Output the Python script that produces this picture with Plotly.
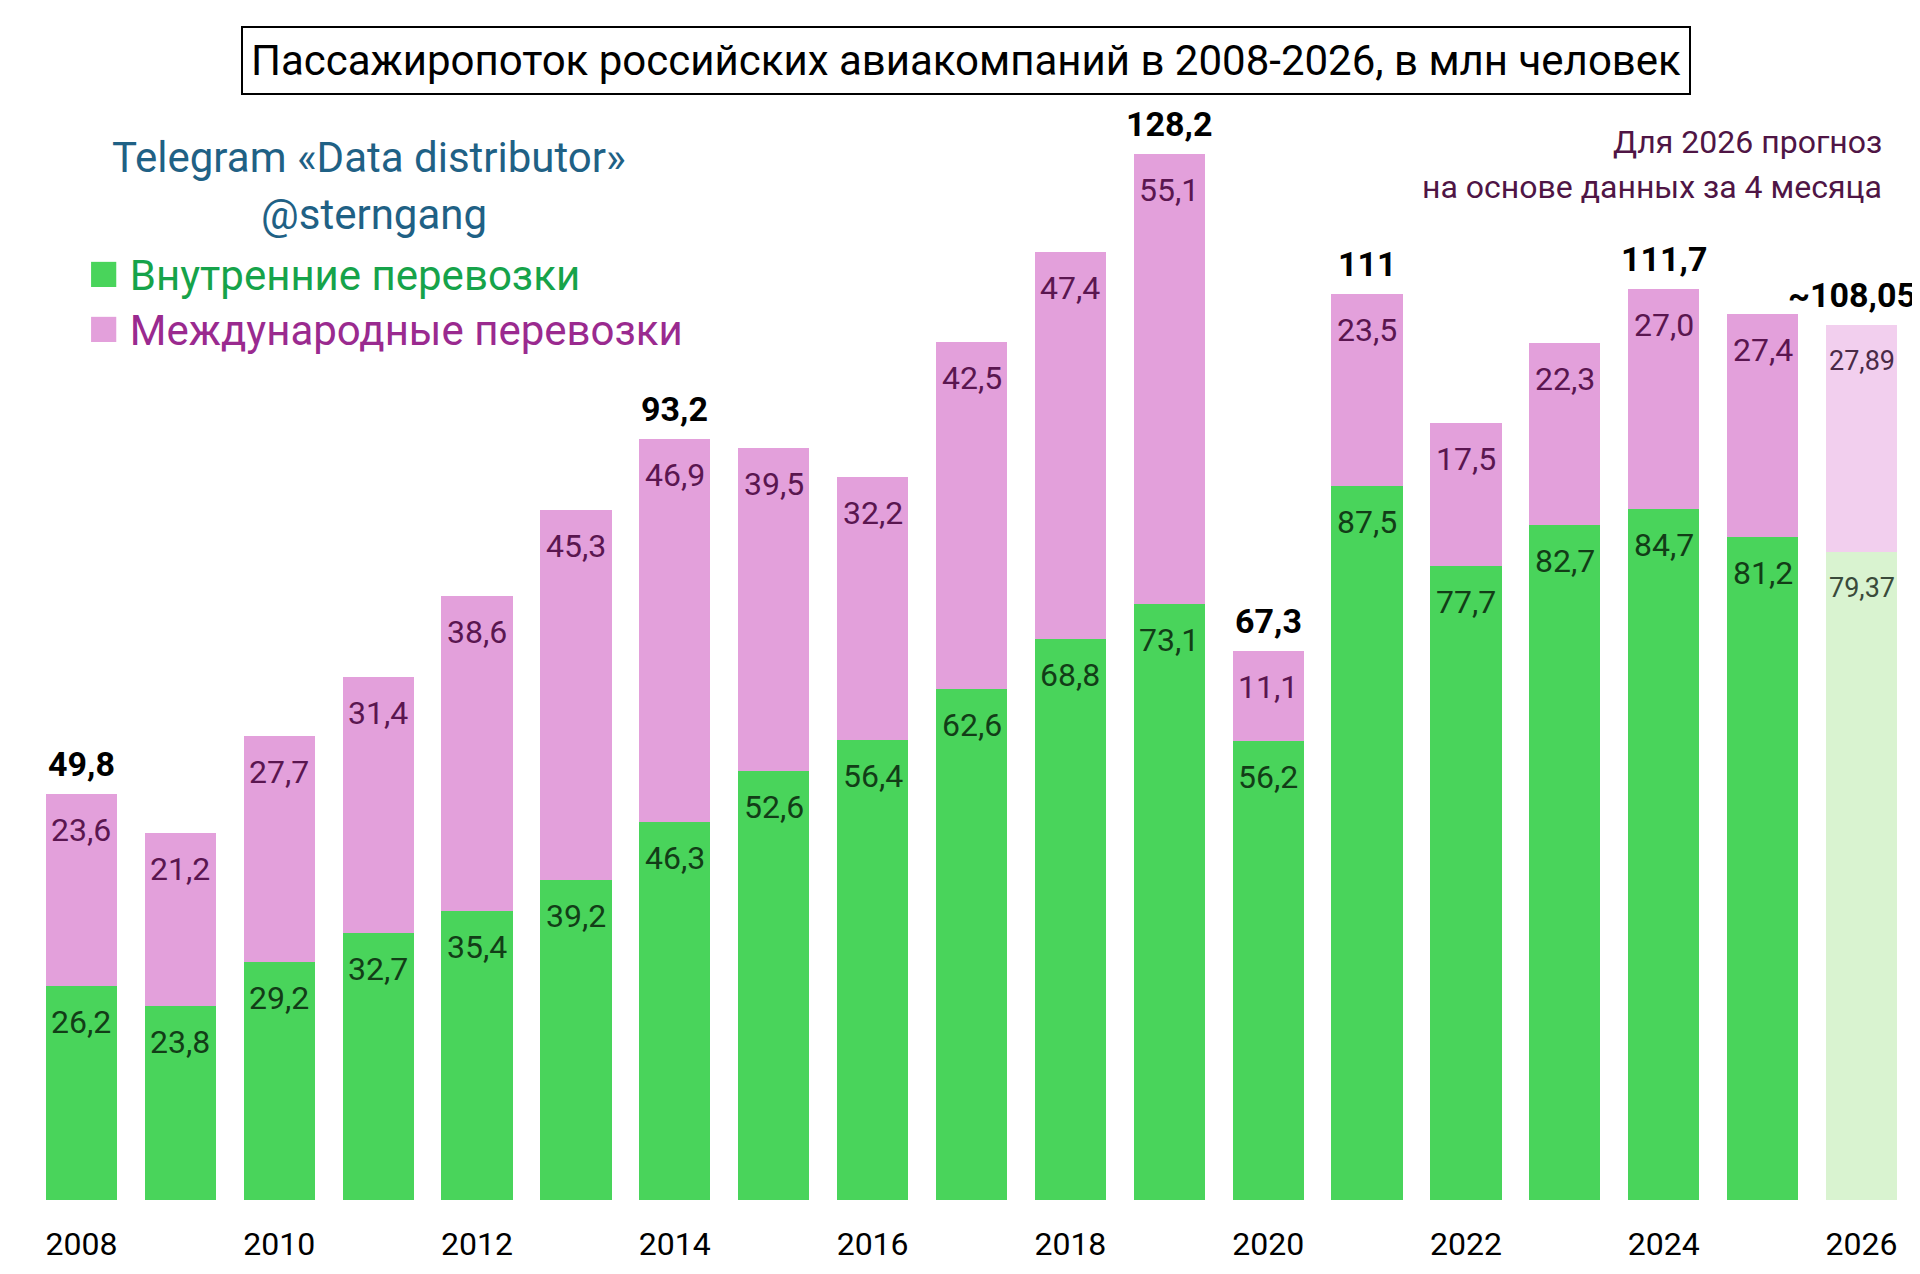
import plotly.graph_objects as go

# years and values (mln passengers)
years = list(range(2008, 2027))
domestic = [26.2, 23.8, 29.2, 32.7, 35.4, 39.2, 46.3, 52.6, 56.4, 62.6, 68.8, 73.1, 56.2, 87.5, 77.7, 82.7, 84.7, 81.2, 79.37]
international = [23.6, 21.2, 27.7, 31.4, 38.6, 45.3, 46.9, 39.5, 32.2, 42.5, 47.4, 55.1, 11.1, 23.5, 17.5, 22.3, 27.0, 27.4, 27.89]
dom_labels = ['26,2', '23,8', '29,2', '32,7', '35,4', '39,2', '46,3', '52,6', '56,4', '62,6', '68,8', '73,1', '56,2', '87,5', '77,7', '82,7', '84,7', '81,2', '79,37']
intl_labels = ['23,6', '21,2', '27,7', '31,4', '38,6', '45,3', '46,9', '39,5', '32,2', '42,5', '47,4', '55,1', '11,1', '23,5', '17,5', '22,3', '27,0', '27,4', '27,89']
total_labels = ['49,8', '', '', '', '', '', '93,2', '', '', '', '', '128,2', '67,3', '111', '', '', '111,7', '', '~108,05']
forecast_year = 2026

FONT = 'Roboto, Liberation Sans, sans-serif'
GREEN = '#49D45B'
PINK = '#E3A0DB'
GREEN_F = '#D9F3D0'
PINK_F = '#F2CFEE'

W, H = 1920, 1274
OFF = 8  # page body margin


def px(x, y):
    # screen pixels -> paper coords
    return (x - OFF) / W, 1 - (y - OFF) / H


is_fc = [y == forecast_year for y in years]

fig = go.Figure()
fig.add_trace(go.Bar(x=years, y=domestic, name='Внутренние перевозки',
                     marker=dict(color=[GREEN_F if f else GREEN for f in is_fc], line=dict(width=0))))
fig.add_trace(go.Bar(x=years, y=international, name='Международные перевозки',
                     marker=dict(color=[PINK_F if f else PINK for f in is_fc], line=dict(width=0))))

anns = []
for i, y in enumerate(years):
    top_d = domestic[i]
    top_t = domestic[i] + international[i]
    size = 27 if is_fc[i] else 32
    anns.append(dict(x=y, y=top_d, text=dom_labels[i], showarrow=False, yshift=-36,
                     xanchor='center', yanchor='middle',
                     font=dict(size=size, color='#3a4a3a' if is_fc[i] else '#123d17', family=FONT)))
    anns.append(dict(x=y, y=top_t, text=intl_labels[i], showarrow=False, yshift=-36,
                     xanchor='center', yanchor='middle',
                     font=dict(size=size, color='#4a2a47' if is_fc[i] else '#5a1650', family=FONT)))
    if total_labels[i]:
        anns.append(dict(x=y, y=top_t, text='<b>' + total_labels[i] + '</b>', showarrow=False,
                         yshift=30, xanchor='center', yanchor='middle', xshift=-10 if is_fc[i] else 0,
                         font=dict(size=34, color='black', family=FONT)))


def note(x, y, text, size, color, xanchor='center', **kw):
    px_x, px_y = px(x, y)
    return dict(xref='paper', yref='paper', x=px_x, y=px_y, showarrow=False, text=text,
                xanchor=xanchor, yanchor='middle', font=dict(size=size, color=color, family=FONT), **kw)


# title box
anns.append(note(966, 61, 'Пассажиропоток российских авиакомпаний в 2008-2026, в млн человек', 42, 'black',
                 bgcolor='white', bordercolor='black', borderwidth=2, borderpad=8))
# watermark
anns.append(note(369, 157, 'Telegram «Data distributor»', 42, '#1f6185'))
anns.append(note(374, 214, '@sterngang', 42, '#1f6185'))
# legend
SQ = '<span style="color:%s;font-size:52px">■</span> '
anns.append(note(86, 273, SQ % GREEN + 'Внутренние перевозки', 42, '#16a34a', xanchor='left'))
anns.append(note(86, 327, SQ % PINK + 'Международные перевозки', 42, '#9a2a8f', xanchor='left'))
# forecast note
anns.append(note(1884, 142, 'Для 2026 прогноз', 32, '#4f1545', xanchor='right'))
anns.append(note(1884, 187, 'на основе данных за 4 месяца', 32, '#4f1545', xanchor='right'))

x0, _ = px(32, 0)
x1, _ = px(1911, 0)
_, y0 = px(0, 1200)
_, y1 = px(0, 40)

fig.update_layout(
    width=W, height=H,
    barmode='stack', bargap=0.28,
    showlegend=False,
    plot_bgcolor='white', paper_bgcolor='white',
    margin=dict(l=0, r=0, t=0, b=0),
    font=dict(family=FONT),
    xaxis=dict(domain=[x0, min(x1, 1)], range=[2007.5, 2026.5],
               tickmode='array', tickvals=years[::2], ticktext=[str(y) for y in years[::2]],
               tickfont=dict(size=32, color='black', family=FONT), ticklabelstandoff=22,
               showgrid=False, zeroline=False, showline=False, ticks=''),
    yaxis=dict(domain=[y0, y1], range=[0, (1200 - 40) / 8.16], visible=False),
    annotations=anns,
)

fig.write_html("out.html")
